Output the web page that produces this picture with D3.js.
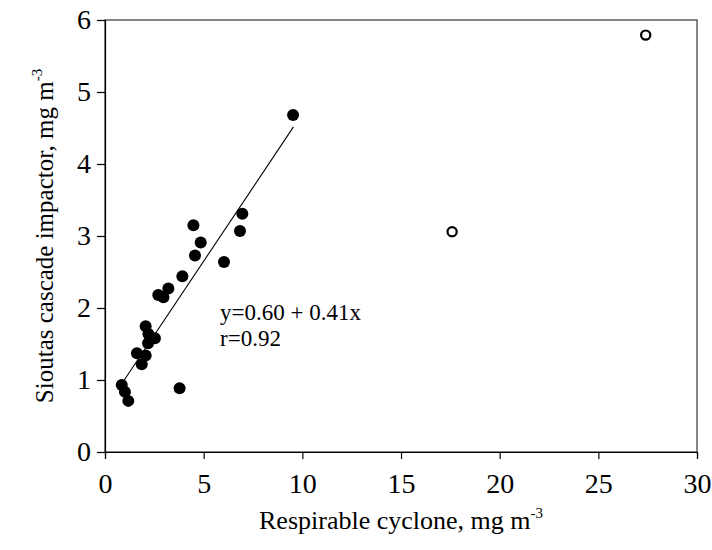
<!DOCTYPE html>
<html>
<head>
<meta charset="utf-8">
<script src="https://cdn.jsdelivr.net/npm/d3@7"></script>
<style>
  html, body { margin: 0; padding: 0; background: #fff; }
  svg { display: block; }
  svg text { font-family: "Liberation Serif", "Times New Roman", serif !important; fill: #000; }
</style>
</head>
<body>
<script>
// ---- data ----
const filledX = [9.53, 6.96, 6.84, 4.48, 4.85, 4.56, 6.03, 3.92, 3.21, 2.96, 2.70, 2.06, 2.20, 2.53, 2.18, 1.62, 2.06, 1.86, 0.85, 1.01, 1.18, 3.78];
const filledY = [4.68, 3.31, 3.07, 3.15, 2.91, 2.73, 2.64, 2.44, 2.27, 2.15, 2.18, 1.745, 1.64, 1.58, 1.51, 1.37, 1.34, 1.22, 0.93, 0.835, 0.71, 0.886];
const openX = [17.59, 27.4];
const openY = [3.06, 5.79];
const fitIntercept = 0.60;
const fitSlope = 0.41;
const fitRange = [0.9, 9.55];
const xTicks = [0, 5, 10, 15, 20, 25, 30];
const yTicks = [0, 1, 2, 3, 4, 5, 6];
const xLabel = "Respirable cyclone, mg m";
const yLabel = "Sioutas cascade impactor, mg m";
const unitSup = "-3";
const eqText = "y=0.60 + 0.41x";
const rText = "r=0.92";

// ---- layout ----
const W = 712, H = 550;
const m = { left: 105, right: 15, top: 20, bottom: 98 };
const svg = d3.select("body").append("svg").attr("width", W).attr("height", H);

const x = d3.scaleLinear().domain([0, 30]).range([m.left, W - m.right]);
const y = d3.scaleLinear().domain([0, 6]).range([H - m.bottom, m.top]);

// frame (top/right)
svg.append("rect")
  .attr("x", x(0)).attr("y", y(6))
  .attr("width", x(30) - x(0)).attr("height", y(0) - y(6))
  .attr("fill", "none").attr("stroke", "#444").attr("stroke-width", 1.3);

// axes
const xAxis = svg.append("g").attr("transform", `translate(0,${y(0)})`)
  .call(d3.axisBottom(x).tickValues(xTicks).tickSize(7).tickPadding(14).tickFormat(d3.format("d")));
const yAxis = svg.append("g").attr("transform", `translate(${x(0)},0)`)
  .call(d3.axisLeft(y).tickValues(yTicks).tickSize(8).tickPadding(6).tickFormat(d3.format("d")));
[xAxis, yAxis].forEach(a => {
  a.attr("font-family", null).attr("font-size", null);
  a.select(".domain").attr("stroke", "#000").attr("stroke-width", 1.2);
  a.selectAll(".tick line").attr("stroke", "#000").attr("stroke-width", 1.2);
  a.selectAll(".tick text").style("font-size", "28px").attr("fill", "#000");
});

// regression line
svg.append("line")
  .attr("x1", x(fitRange[0])).attr("y1", y(fitIntercept + fitSlope * fitRange[0]))
  .attr("x2", x(fitRange[1])).attr("y2", y(fitIntercept + fitSlope * fitRange[1]))
  .attr("stroke", "#000").attr("stroke-width", 1.1);

// filled points
svg.append("g").selectAll("circle")
  .data(filledX.map((v, i) => [v, filledY[i]]))
  .join("circle")
  .attr("cx", d => x(d[0])).attr("cy", d => y(d[1]))
  .attr("r", 6).attr("fill", "#000");

// open points
svg.append("g").selectAll("circle")
  .data(openX.map((v, i) => [v, openY[i]]))
  .join("circle")
  .attr("cx", d => x(d[0])).attr("cy", d => y(d[1]))
  .attr("r", 4.6).attr("fill", "#fff").attr("stroke", "#000").attr("stroke-width", 2.2);

// annotation
svg.append("text").attr("x", 220).attr("y", 320).style("font-size", "23px").text(eqText);
svg.append("text").attr("x", 220).attr("y", 346).style("font-size", "23px").text(rText);

// axis titles
const xt = svg.append("text")
  .attr("x", (x(0) + x(30)) / 2).attr("y", 529)
  .attr("text-anchor", "middle").style("font-size", "26px");
xt.append("tspan").text(xLabel);
xt.append("tspan").attr("dy", -11).style("font-size", "15px").text(unitSup);

const yt = svg.append("text")
  .attr("transform", `translate(53,${(y(0) + y(6)) / 2}) rotate(-90)`)
  .attr("text-anchor", "middle").style("font-size", "25px");
yt.append("tspan").text(yLabel);
yt.append("tspan").attr("dy", -11).style("font-size", "15px").text(unitSup);
</script>
</body>
</html>
